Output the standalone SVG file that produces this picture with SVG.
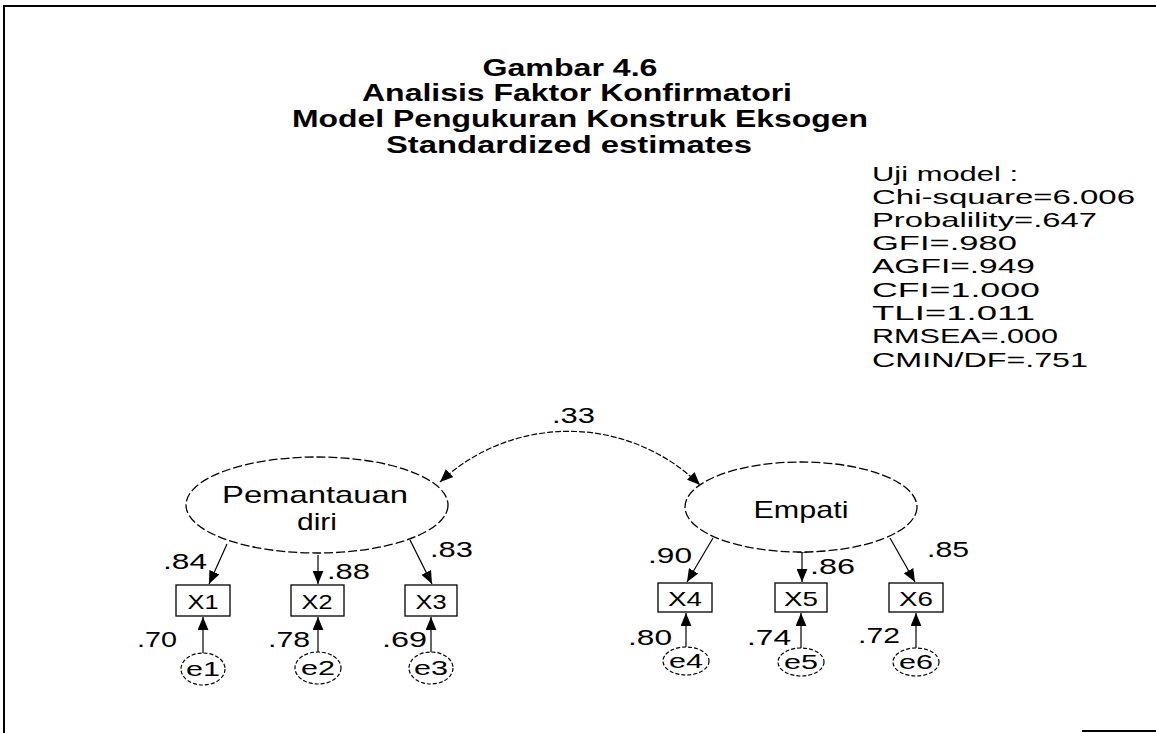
<svg xmlns="http://www.w3.org/2000/svg" width="1156" height="733" viewBox="0 0 1156 733">
<defs>
<marker id="ah" viewBox="0 0 12 10" markerUnits="userSpaceOnUse" markerWidth="13" markerHeight="11" refX="12" refY="5" orient="auto-start-reverse">
<path d="M0,0 L12,5 L0,10 z" fill="#000"/>
</marker>
<style>
text{font-family:"Liberation Sans",Arial,sans-serif;fill:#000}
.t{font-weight:bold;font-size:23px;text-anchor:middle}
.s{font-size:20.8px}
.lab{font-size:22px}
.nm{font-size:24px;text-anchor:middle}
.bx{font-size:21px;text-anchor:middle}
.e{font-size:20px;text-anchor:middle}
.lat{fill:#fff;stroke:#000;stroke-width:1.3;stroke-dasharray:9 3}
.err{fill:#fff;stroke:#000;stroke-width:1.2;stroke-dasharray:4 2}
.obs{fill:#fff;stroke:#000;stroke-width:1.3}
.c{fill:none;stroke:#000;stroke-width:1.2}
.cd{fill:none;stroke:#000;stroke-width:1.2;stroke-dasharray:6 2}
</style>
</defs>
<rect width="1156" height="733" fill="#fff"/>
<g id="frame" stroke="#000" stroke-width="2" fill="none">
<line x1="3" y1="6" x2="1156" y2="6"/>
<line x1="4" y1="6" x2="4" y2="733"/>
<line x1="1082" y1="731" x2="1156" y2="731"/>
</g>
<g id="title">
<text class="t" x="570" y="76" textLength="175" lengthAdjust="spacingAndGlyphs">Gambar 4.6</text>
<text class="t" x="577" y="101" textLength="430" lengthAdjust="spacingAndGlyphs">Analisis Faktor Konfirmatori</text>
<text class="t" x="580" y="127" textLength="576" lengthAdjust="spacingAndGlyphs">Model Pengukuran Konstruk Eksogen</text>
<text class="t" x="569" y="153" textLength="366" lengthAdjust="spacingAndGlyphs">Standardized estimates</text>
</g>
<g id="fit">
<text class="s" x="872" y="181" textLength="146" lengthAdjust="spacingAndGlyphs">Uji model :</text>
<text class="s" x="872" y="204" textLength="263" lengthAdjust="spacingAndGlyphs">Chi-square=6.006</text>
<text class="s" x="872" y="227" textLength="225" lengthAdjust="spacingAndGlyphs">Probalility=.647</text>
<text class="s" x="872" y="250" textLength="145" lengthAdjust="spacingAndGlyphs">GFI=.980</text>
<text class="s" x="872" y="273" textLength="163" lengthAdjust="spacingAndGlyphs">AGFI=.949</text>
<text class="s" x="872" y="297" textLength="168" lengthAdjust="spacingAndGlyphs">CFI=1.000</text>
<text class="s" x="872" y="320" textLength="163" lengthAdjust="spacingAndGlyphs">TLI=1.011</text>
<text class="s" x="872" y="343" textLength="186" lengthAdjust="spacingAndGlyphs">RMSEA=.000</text>
<text class="s" x="872" y="367" textLength="216" lengthAdjust="spacingAndGlyphs">CMIN/DF=.751</text>
</g>
<g id="connectors">
<path class="cd" d="M440,482 A188,188 0 0 1 700,485" marker-start="url(#ah)" marker-end="url(#ah)"/>
<line class="c" x1="227" y1="544" x2="209" y2="584" marker-end="url(#ah)"/>
<line class="c" x1="318" y1="555" x2="318" y2="584" marker-end="url(#ah)"/>
<line class="c" x1="410" y1="540" x2="432" y2="584" marker-end="url(#ah)"/>
<line class="c" x1="713" y1="538" x2="687" y2="582" marker-end="url(#ah)"/>
<line class="c" x1="802" y1="552" x2="802" y2="582" marker-end="url(#ah)"/>
<line class="c" x1="797" y1="552" x2="807" y2="552"/>
<line class="c" x1="890" y1="538" x2="915" y2="582" marker-end="url(#ah)"/>
<line class="c" x1="203" y1="653" x2="203" y2="617" marker-end="url(#ah)"/>
<line class="c" x1="318" y1="652" x2="318" y2="617" marker-end="url(#ah)"/>
<line class="c" x1="431" y1="652" x2="431" y2="617" marker-end="url(#ah)"/>
<line class="c" x1="686" y1="647" x2="686" y2="613" marker-end="url(#ah)"/>
<line class="c" x1="801" y1="648" x2="801" y2="613" marker-end="url(#ah)"/>
<line class="c" x1="916" y1="648" x2="916" y2="613" marker-end="url(#ah)"/>
</g>
<g id="labels">
<text class="lab" x="552" y="423" textLength="43" lengthAdjust="spacingAndGlyphs">.33</text>
<text class="lab" x="163" y="569" textLength="44" lengthAdjust="spacingAndGlyphs">.84</text>
<text class="lab" x="327" y="579" textLength="43" lengthAdjust="spacingAndGlyphs">.88</text>
<text class="lab" x="430" y="557" textLength="43" lengthAdjust="spacingAndGlyphs">.83</text>
<text class="lab" x="648" y="563" textLength="44" lengthAdjust="spacingAndGlyphs">.90</text>
<text class="lab" x="810" y="574" textLength="45" lengthAdjust="spacingAndGlyphs">.86</text>
<text class="lab" x="927" y="557" textLength="42" lengthAdjust="spacingAndGlyphs">.85</text>
<text class="lab" x="137" y="647" textLength="40" lengthAdjust="spacingAndGlyphs">.70</text>
<text class="lab" x="268" y="647" textLength="42" lengthAdjust="spacingAndGlyphs">.78</text>
<text class="lab" x="382" y="647" textLength="45" lengthAdjust="spacingAndGlyphs">.69</text>
<text class="lab" x="628" y="645" textLength="44" lengthAdjust="spacingAndGlyphs">.80</text>
<text class="lab" x="747" y="645" textLength="44" lengthAdjust="spacingAndGlyphs">.74</text>
<text class="lab" x="858" y="643" textLength="42" lengthAdjust="spacingAndGlyphs">.72</text>
</g>
<g id="Pemantauan_diri">
<ellipse class="lat" cx="317" cy="505" rx="131" ry="48"/>
<text class="nm" x="315" y="503" textLength="186" lengthAdjust="spacingAndGlyphs">Pemantauan</text>
<text class="nm" x="317" y="530" textLength="40" lengthAdjust="spacingAndGlyphs">diri</text>
</g>
<g id="Empati">
<ellipse class="lat" cx="801" cy="507" rx="116" ry="45"/>
<text class="nm" x="801" y="518" textLength="95" lengthAdjust="spacingAndGlyphs">Empati</text>
</g>
<g id="X1"><rect class="obs" x="176" y="585" width="54" height="31"/><text class="bx" x="203" y="609" textLength="31" lengthAdjust="spacingAndGlyphs">X1</text></g>
<g id="X2"><rect class="obs" x="291" y="585" width="53" height="31"/><text class="bx" x="317" y="609" textLength="31" lengthAdjust="spacingAndGlyphs">X2</text></g>
<g id="X3"><rect class="obs" x="405" y="585" width="52" height="31"/><text class="bx" x="431" y="609" textLength="31" lengthAdjust="spacingAndGlyphs">X3</text></g>
<g id="X4"><rect class="obs" x="658" y="583" width="54" height="29"/><text class="bx" x="685" y="606" textLength="34" lengthAdjust="spacingAndGlyphs">X4</text></g>
<g id="X5"><rect class="obs" x="775" y="583" width="52" height="29"/><text class="bx" x="801" y="606" textLength="34" lengthAdjust="spacingAndGlyphs">X5</text></g>
<g id="X6"><rect class="obs" x="889" y="583" width="54" height="29"/><text class="bx" x="916" y="606" textLength="34" lengthAdjust="spacingAndGlyphs">X6</text></g>
<g id="e1"><ellipse class="err" cx="203" cy="669" rx="22" ry="16"/><text class="e" x="203" y="676" textLength="34" lengthAdjust="spacingAndGlyphs">e1</text></g>
<g id="e2"><ellipse class="err" cx="318" cy="668" rx="23" ry="16"/><text class="e" x="318" y="675" textLength="34" lengthAdjust="spacingAndGlyphs">e2</text></g>
<g id="e3"><ellipse class="err" cx="431" cy="668" rx="22" ry="16"/><text class="e" x="431" y="675" textLength="34" lengthAdjust="spacingAndGlyphs">e3</text></g>
<g id="e4"><ellipse class="err" cx="686" cy="661" rx="23" ry="14"/><text class="e" x="686" y="668" textLength="34" lengthAdjust="spacingAndGlyphs">e4</text></g>
<g id="e5"><ellipse class="err" cx="801" cy="662" rx="23" ry="14"/><text class="e" x="801" y="669" textLength="34" lengthAdjust="spacingAndGlyphs">e5</text></g>
<g id="e6"><ellipse class="err" cx="916" cy="662" rx="23" ry="14"/><text class="e" x="916" y="669" textLength="34" lengthAdjust="spacingAndGlyphs">e6</text></g>
</svg>
